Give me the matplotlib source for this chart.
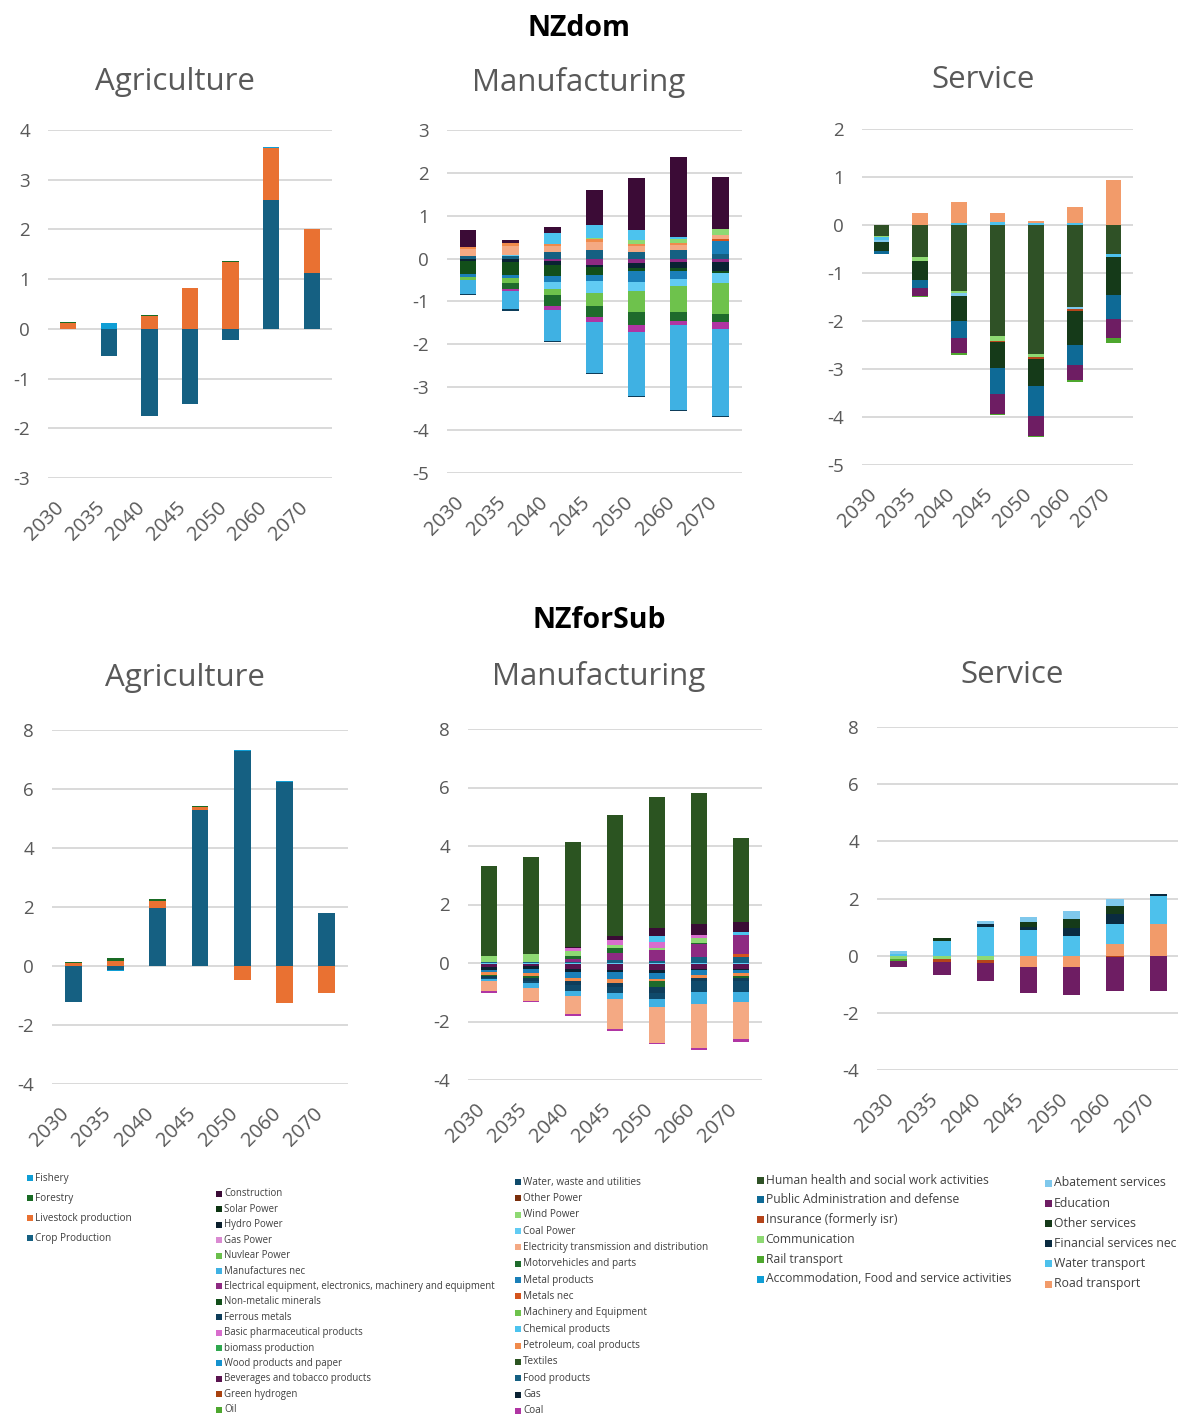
import numpy as np
import matplotlib
matplotlib.use("Agg")
import matplotlib.pyplot as plt
from matplotlib.patches import Rectangle

plt.rcParams['font.family'] = ['Open Sans', 'DejaVu Sans']
plt.rcParams['axes.unicode_minus'] = False

W, H = 1178, 1419
years = ["2030", "2035", "2040", "2045", "2050", "2060", "2070"]

# ---------------- data ----------------
dom_agri = {
    "Crop Production":      [0.00, -0.55, -1.75, -1.52, -0.22, 2.60, 1.12],
    "Livestock production": [0.12, 0.00, 0.26, 0.82, 1.34, 1.03, 0.88],
    "Forestry":             [0.01, 0.00, 0.02, 0.00, 0.03, 0.00, 0.00],
    "Fishery":              [0.01, 0.12, 0.00, 0.00, 0.00, 0.03, 0.00],
}
dom_manu = {
    "Food products":            [0.05, 0.06, 0.15, 0.20, 0.15, 0.20, 0.10],
    "Electrical equipment, electronics, machinery and equipment":
                                [0.00, 0.00, -0.05, -0.15, -0.10, -0.08, -0.08],
    "Gas":                      [-0.05, -0.08, -0.10, -0.05, -0.12, -0.15, -0.20],
    "Non-metalic minerals":     [-0.30, -0.30, -0.25, -0.18, -0.08, -0.05, -0.05],
    "Metal products":           [-0.08, -0.08, -0.15, -0.15, -0.25, -0.20, 0.30],
    "Metals nec":               [0.00, 0.00, 0.00, 0.00, 0.00, 0.00, 0.05],
    "Coal Power":               [0.00, 0.02, -0.15, -0.27, -0.20, -0.15, -0.25],
    "Electricity transmission and distribution":
                                [0.17, 0.22, 0.15, 0.18, 0.15, 0.12, 0.10],
    "Petroleum, coal products": [0.05, 0.07, 0.05, 0.07, 0.05, 0.04, 0.00],
    "Wind Power":               [0.00, 0.00, 0.00, 0.03, 0.08, 0.10, 0.14],
    "Machinery and Equipment":  [-0.06, -0.10, -0.15, -0.30, -0.50, -0.62, -0.70],
    "Motorvehicles and parts":  [0.00, -0.15, -0.25, -0.25, -0.30, -0.20, -0.20],
    "Coal":                     [-0.02, -0.05, -0.10, -0.12, -0.15, -0.10, -0.15],
    "Chemical products":        [0.00, 0.00, 0.25, 0.30, 0.24, 0.05, 0.00],
    "Manufactures nec":         [-0.32, -0.42, -0.72, -1.20, -1.50, -1.97, -2.03],
    "Ferrous metals":           [-0.03, -0.03, -0.03, -0.03, -0.03, -0.03, -0.03],
    "Construction":             [0.39, 0.06, 0.14, 0.82, 1.20, 1.85, 1.22],
}
dom_serv = {
    "Human health and social work activities":
                                [-0.23, -0.66, -1.37, -2.31, -2.69, -1.70, -0.61],
    "Communication":            [-0.03, -0.08, -0.05, -0.10, -0.05, 0.00, 0.00],
    "Water transport":          [-0.06, 0.00, 0.04, 0.06, 0.05, 0.05, -0.05],
    "Abatement services":       [-0.04, 0.00, -0.05, 0.00, 0.00, -0.04, 0.00],
    "Insurance (formerly isr)": [0.00, 0.00, 0.00, -0.03, -0.05, -0.05, 0.00],
    "Other services":           [-0.19, -0.40, -0.54, -0.54, -0.57, -0.72, -0.80],
    "Public Administration and defense":
                                [-0.05, -0.17, -0.35, -0.55, -0.61, -0.41, -0.49],
    "Education":                [0.00, -0.16, -0.31, -0.40, -0.43, -0.31, -0.40],
    "Rail transport":           [0.00, -0.03, -0.03, -0.03, -0.02, -0.05, -0.10],
    "Road transport":           [0.00, 0.26, 0.44, 0.20, 0.03, 0.33, 0.94],
}
sub_agri = {
    "Crop Production":      [-1.22, -0.12, 1.95, 5.30, 7.28, 6.25, 1.78],
    "Livestock production": [0.10, 0.16, 0.26, 0.08, -0.48, -1.27, -0.90],
    "Forestry":             [0.05, 0.10, 0.05, 0.03, 0.00, 0.00, 0.00],
    "Fishery":              [0.00, -0.06, 0.00, 0.03, 0.05, 0.02, 0.03],
}
sub_manu = {
    "Food products":            [0.05, 0.05, 0.05, 0.10, 0.08, 0.20, 0.20],
    "Coal Power":               [-0.05, -0.04, -0.05, -0.05, -0.05, -0.05, -0.05],
    "Metals nec":               [0.00, 0.00, 0.00, 0.00, 0.00, 0.00, 0.10],
    "Beverages and tobacco products":
                                [-0.08, -0.06, -0.17, -0.20, -0.20, -0.15, -0.15],
    "Gas":                      [-0.10, -0.10, -0.08, -0.05, -0.08, -0.05, -0.05],
    "Electrical equipment, electronics, machinery and equipment":
                                [0.00, 0.00, 0.10, 0.25, 0.35, 0.45, 0.65],
    "Metal products":           [-0.08, -0.15, -0.20, -0.25, -0.20, -0.15, -0.10],
    "Petroleum, coal products": [-0.10, -0.08, -0.10, -0.12, -0.10, -0.10, -0.10],
    "Motorvehicles and parts":  [-0.04, -0.08, 0.10, 0.15, -0.20, 0.05, -0.05],
    "Wind Power":               [0.20, 0.25, 0.15, 0.12, 0.08, 0.15, 0.00],
    "Ferrous metals":           [-0.05, -0.10, -0.15, -0.15, -0.20, -0.10, -0.10],
    "Basic pharmaceutical products":
                                [0.00, 0.00, 0.10, 0.15, 0.20, 0.10, 0.00],
    "Chemical products":        [0.00, 0.00, 0.00, 0.00, 0.20, 0.00, 0.10],
    "Water, waste and utilities":
                                [-0.05, -0.08, -0.20, -0.20, -0.20, -0.40, -0.40],
    "Manufactures nec":         [-0.08, -0.15, -0.18, -0.22, -0.26, -0.40, -0.34],
    "Construction":             [0.00, 0.00, 0.05, 0.16, 0.30, 0.37, 0.35],
    "Electricity transmission and distribution":
                                [-0.34, -0.45, -0.62, -1.02, -1.24, -1.49, -1.27],
    "Coal":                     [-0.05, -0.04, -0.05, -0.05, -0.05, -0.09, -0.10],
    "Textiles":                 [3.05, 3.34, 3.60, 4.14, 4.47, 4.50, 2.89],
}
sub_serv = {
    "Road transport":           [0.00, 0.00, 0.00, -0.40, -0.40, 0.41, 1.10],
    "Communication":            [-0.10, -0.13, -0.15, 0.00, 0.00, 0.00, 0.00],
    "Insurance (formerly isr)": [0.00, -0.10, -0.12, 0.00, 0.00, -0.04, 0.00],
    "Rail transport":           [-0.10, 0.00, 0.00, 0.00, 0.00, 0.00, 0.00],
    "Water transport":          [0.05, 0.52, 0.99, 0.90, 0.70, 0.70, 0.99],
    "Financial services nec":   [0.00, 0.00, 0.12, 0.10, 0.27, 0.35, 0.08],
    "Other services":           [0.00, 0.10, 0.00, 0.17, 0.31, 0.29, 0.00],
    "Abatement services":       [0.12, 0.00, 0.10, 0.20, 0.29, 0.25, 0.00],
    "Education":                [-0.20, -0.44, -0.63, -0.90, -0.99, -1.20, -1.24],
}

legend_col1 = ["Fishery", "Forestry", "Livestock production", "Crop Production"]
legend_col2 = ["Construction", "Solar Power", "Hydro Power", "Gas Power", "Nuvlear Power",
               "Manufactures nec",
               "Electrical equipment, electronics, machinery and equipment",
               "Non-metalic minerals", "Ferrous metals", "Basic pharmaceutical products",
               "biomass production", "Wood products and paper",
               "Beverages and tobacco products", "Green hydrogen", "Oil"]
legend_col3 = ["Water, waste and utilities", "Other Power", "Wind Power", "Coal Power",
               "Electricity transmission and distribution", "Motorvehicles and parts",
               "Metal products", "Metals nec", "Machinery and Equipment",
               "Chemical products", "Petroleum, coal products", "Textiles",
               "Food products", "Gas", "Coal"]
legend_col4 = ["Human health and social work activities", "Public Administration and defense",
               "Insurance (formerly isr)", "Communication", "Rail transport",
               "Accommodation, Food and service activities"]
legend_col5 = ["Abatement services", "Education", "Other services",
               "Financial services nec", "Water transport", "Road transport"]

# ---------------- styles ----------------
COLORS = {
    "Fishery": "#0F9ED5", "Forestry": "#196B24", "Livestock production": "#E97132",
    "Crop Production": "#156082",
    "Construction": "#3B0B36", "Solar Power": "#0D3512", "Hydro Power": "#0A1F2C",
    "Gas Power": "#DA8AD2", "Nuvlear Power": "#6ABF4B", "Manufactures nec": "#3FB1E3",
    "Electrical equipment, electronics, machinery and equipment": "#8E2A82",
    "Non-metalic minerals": "#124F1A", "Ferrous metals": "#0E3D5A",
    "Basic pharmaceutical products": "#D86DCD", "biomass production": "#2FA84F",
    "Wood products and paper": "#1592CE", "Beverages and tobacco products": "#5A1450",
    "Green hydrogen": "#A8420F", "Oil": "#4EA72E",
    "Water, waste and utilities": "#0F4A6B", "Other Power": "#7A2E0B",
    "Wind Power": "#8ED973", "Coal Power": "#61CBF3",
    "Electricity transmission and distribution": "#F4A983",
    "Motorvehicles and parts": "#1E6B2C", "Metal products": "#1A7FB8",
    "Metals nec": "#D4541C", "Machinery and Equipment": "#6EC24C",
    "Chemical products": "#4CC3EE", "Petroleum, coal products": "#F08A4B",
    "Textiles": "#2B5421", "Food products": "#156082", "Gas": "#0A2233", "Coal": "#B035A3",
    "Human health and social work activities": "#2F5126",
    "Public Administration and defense": "#0E6A96", "Insurance (formerly isr)": "#B5441A",
    "Communication": "#8ED973", "Rail transport": "#4EA72E",
    "Accommodation, Food and service activities": "#0F9ED5",
    "Abatement services": "#7FC8EC", "Education": "#6E1D63", "Other services": "#153A19",
    "Financial services nec": "#0A2B40", "Water transport": "#4DC1EC",
    "Road transport": "#F29B6A",
}
GRID = "#D9D9D9"
TXT = "#595959"

fig = plt.figure(figsize=(W / 100, H / 100), dpi=100)


def add_ax(x0, x1, ytop, ybot):
    return fig.add_axes([x0 / W, 1 - ybot / H, (x1 - x0) / W, (ybot - ytop) / H])


def draw(ax, series, ymin, ymax, step):
    x = np.arange(len(years))
    pos = np.zeros(len(years))
    neg = np.zeros(len(years))
    for name, vals in series.items():
        v = np.array(vals, float)
        p = np.where(v > 0, v, 0.0)
        n = np.where(v < 0, v, 0.0)
        ax.bar(x, p, bottom=pos, width=0.4, color=COLORS[name], zorder=3, linewidth=0)
        ax.bar(x, n, bottom=neg, width=0.4, color=COLORS[name], zorder=3, linewidth=0)
        pos += p
        neg += n
    ax.set_xlim(-0.5, len(years) - 0.5)
    ax.set_ylim(ymin, ymax)
    ticks = list(range(ymin, ymax + 1, step))
    ax.set_yticks(ticks)
    ax.set_yticklabels([str(t) for t in ticks])
    ax.yaxis.grid(True, color=GRID, linewidth=1.4)
    ax.set_axisbelow(True)
    for s in ax.spines.values():
        s.set_visible(False)
    ax.tick_params(axis="y", length=0, labelsize=13.5, labelcolor=TXT, pad=13)
    ax.tick_params(axis="x", length=0, labelsize=14.5, labelcolor=TXT, pad=14)
    ax.set_xticks(x)
    ax.set_xticklabels(years, rotation=45, ha="right")
    ax.patch.set_alpha(0)


draw(add_ax(48, 332, 130, 478), dom_agri, -3, 4, 1)
draw(add_ax(447, 742, 130, 473), dom_manu, -5, 3, 1)
draw(add_ax(862, 1133, 129, 465), dom_serv, -5, 2, 1)
draw(add_ax(52, 348, 730, 1084), sub_agri, -4, 8, 2)
draw(add_ax(468, 762, 729, 1080), sub_manu, -4, 8, 2)
draw(add_ax(877, 1180, 727, 1070), sub_serv, -4, 8, 2)

# overlay in pixel coordinates for titles and legend
ov = fig.add_axes([0, 0, 1, 1])
ov.set_xlim(0, W)
ov.set_ylim(H, 0)
ov.axis("off")
ov.patch.set_alpha(0)

ov.text(579, 28, "NZdom", ha="center", va="center", fontsize=20.5, fontweight="bold", color="black")
ov.text(599, 620, "NZforSub", ha="center", va="center", fontsize=20.5, fontweight="bold", color="black")
for (cx, cy, t) in [(175, 82, "Agriculture"), (579, 82, "Manufacturing"), (983, 80, "Service"),
                    (185, 678, "Agriculture"), (599, 677, "Manufacturing"), (1012, 675, "Service")]:
    ov.text(cx, cy, t, ha="center", va="center", fontsize=22.5, color=TXT)


def legend_col(names, x, y0, dy, fs, sq):
    for i, nm in enumerate(names):
        y = y0 + i * dy
        ov.add_patch(Rectangle((x - sq / 2, y - sq / 2), sq, sq, color=COLORS[nm], lw=0))
        ov.text(x + sq / 2 + 2, y, nm, ha="left", va="center", fontsize=fs, color="#404040")


legend_col(legend_col1, 30, 1178, 20.0, 7.2, 6)
legend_col(legend_col2, 219, 1194, 15.4, 6.9, 6)
legend_col(legend_col3, 518, 1182, 16.35, 7.2, 6)
legend_col(legend_col4, 760, 1180, 19.8, 8.7, 7)
legend_col(legend_col5, 1048, 1183, 20.2, 8.8, 7)

fig.savefig("out.png", dpi=100)
